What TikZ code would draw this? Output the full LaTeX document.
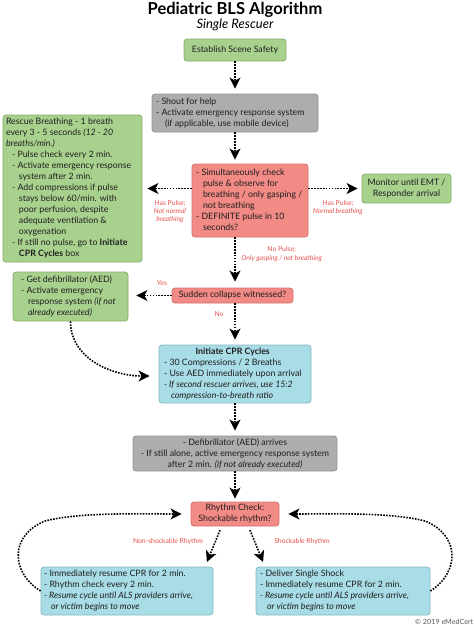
\documentclass[tikz,border=0pt]{standalone}
\usepackage{fontspec}
\setmainfont{Lato}
\usetikzlibrary{arrows.meta,calc}
\definecolor{gfill}{HTML}{A9D18E}
\definecolor{gdraw}{HTML}{86AE6B}
\definecolor{kfill}{HTML}{ADADAD}
\definecolor{kdraw}{HTML}{939393}
\definecolor{rfill}{HTML}{F28A85}
\definecolor{rdraw}{HTML}{D6716C}
\definecolor{cfill}{HTML}{A8DCE6}
\definecolor{cdraw}{HTML}{84B8C4}
\definecolor{txt}{HTML}{1E1E1E}
\definecolor{lblred}{HTML}{E4504C}
\newcommand{\hsp}[1]{\hspace*{#1pt}}
\newcommand{\rows}[2]{\makebox[#1pt][l]{\begin{tabular}{@{}l@{}}#2\end{tabular}}}
\begin{document}
\begin{tikzpicture}[x=1pt,y=-1pt,
  box/.style={draw, rounded corners=3pt, line width=0.8pt, inner xsep=0pt, inner ysep=0pt,
    font=\fontsize{8.8}{11}\selectfont, text=txt},
  greenbox/.style={box, fill=gfill, draw=gdraw},
  graybox/.style={box, fill=kfill, draw=kdraw},
  redbox/.style={box, fill=rfill, draw=rdraw},
  cyanbox/.style={box, fill=cfill, draw=cdraw},
  lbl/.style={text=lblred, font=\fontsize{6.8}{8.3}\selectfont, align=center, inner sep=0pt},
  arr/.style={line width=1.6pt, dash pattern=on 1.6pt off 1.3pt,
    -{Stealth[length=11pt,width=11pt,inset=3pt]}}]
\useasboundingbox (0,0) rectangle (474,625);

% title
\node[font=\fontsize{16.5}{17}\selectfont\bfseries, text=black, inner sep=0pt] (title) at (235,9.5) {Pediatric BLS Algorithm};
\node[font=\fontsize{13}{14}\selectfont\itshape, text=black, inner sep=0pt] (subtitle) at (235,24.5) {Single Rescuer};

% boxes
\node[greenbox, minimum width=102pt, minimum height=22pt, align=center] (safety) at (235,50) {Establish Scene Safety};

\node[graybox, minimum width=166pt, minimum height=38pt] (shout) at (235,113)
 {\rows{158}{- Shout for help\\- Activate emergency response system\\\hsp{9}(if applicable, use mobile device)}};

\node[redbox, minimum width=116pt, minimum height=73pt] (check) at (250,200.5)
 {\rows{108}{- Simultaneously check\\\hsp{7}pulse \& observe for\\\hsp{7}breathing / only gasping /\\\hsp{7}not breathing\\- DEFINITE pulse in 10\\\hsp{7}seconds?}};

\node[greenbox, minimum width=139pt, minimum height=147pt] (rescue) at (72.5,188.5)
 {\rows{133}{Rescue Breathing - 1 breath\\every 3 - 5 seconds \textit{(12 - 20}\\\textit{breaths/min.)}\\
 \hsp{6}- Pulse check every 2 min.\\
 \hsp{6}- Activate emergency response\\\hsp{13}system after 2 min.\\
 \hsp{6}- Add compressions if pulse\\\hsp{13}stays below 60/min. with\\\hsp{13}poor perfusion, despite\\\hsp{13}adequate ventilation \&\\\hsp{13}oxygenation\\
 \hsp{6}- If still no pulse, go to \textbf{Initiate}\\\hsp{13}\textbf{CPR Cycles} box}};

\node[greenbox, minimum width=89pt, minimum height=29pt, align=center] (monitor) at (406.5,188.5)
 {Monitor until EMT /\\Responder arrival};

\node[redbox, minimum width=121pt, minimum height=15pt, align=center] (collapse) at (232.5,295.5)
 {Sudden collapse witnessed?};

\node[greenbox, minimum width=115pt, minimum height=49pt] (aed) at (70.5,296.5)
 {\rows{99}{- Get defibrillator (AED)\\- Activate emergency\\\hsp{7}response system \textit{(if not}\\\hsp{7}\textit{already executed)}}};

\node[cyanbox, minimum width=152pt, minimum height=58pt] (cpr) at (235,374)
 {\rows{142}{\multicolumn{1}{@{}c@{}}{\bfseries Initiate CPR Cycles}\\- 30 Compressions / 2 Breaths\\- Use AED immediately upon arrival\\\textit{- If second rescuer arrives, use 15:2}\\\hsp{7}\textit{compression-to-breath ratio}}};

\node[graybox, minimum width=204pt, minimum height=35pt, align=center] (defib) at (235,453.5)
 {- Defibrillator (AED) arrives\\- If still alone, active emergency response system\\after 2 min. \textit{(if not already executed)}};

\node[redbox, minimum width=88pt, minimum height=24pt, align=center] (rhythm) at (235,514)
 {Rhythm Check:\\Shockable rhythm?};

\node[cyanbox, minimum width=172pt, minimum height=48pt] (nonshock) at (127,591)
 {\rows{166}{- Immediately resume CPR for 2 min.\\- Rhythm check every 2 min.\\\textit{- Resume cycle until ALS providers arrive,}\\\hsp{7}\textit{or victim begins to move}}};

\node[cyanbox, minimum width=174pt, minimum height=48pt] (shock) at (343,591)
 {\rows{166}{- Deliver Single Shock\\- Immediately resume CPR for 2 min.\\\textit{- Resume cycle until ALS providers arrive,}\\\hsp{7}\textit{or victim begins to move}}};

% labels
\node[lbl] (lhp) at (170,211.5) {Has Pulse;\\\textit{Not normal}\\\textit{breathing}};
\node[lbl] (lnb) at (338,207.5) {Has Pulse;\\\textit{Normal breathing}};
\node[lbl] (lnp) at (281.7,254) {No Pulse;\\\textit{Only gasping / not breathing}};
\node[lbl] (lyes) at (162,283) {Yes};
\node[lbl] (lno) at (219,314) {No};
\node[lbl] (lns) at (168,542) {Non-shockable Rhythm};
\node[lbl] (lsh) at (302,542) {Shockable Rhythm};

\node[anchor=east, inner sep=0pt, text=black!65, font=\fontsize{7.2}{8}\selectfont] (copy) at (473.5,621.5) {© 2019 eMedCert};

% connectors
\draw[arr, shorten >=5pt] (safety) -- (shout);
\draw[arr, shorten >=4pt] (shout.south) -- (shout.south |- check.north);
\draw[arr, shorten >=5pt] (check.west |- rescue.east) -- (rescue.east);
\draw[arr, shorten >=4pt] (check.east |- monitor.west) -- (monitor.west);
\draw[arr, shorten >=6pt] (check.south -| cpr.north) -- (collapse.north -| cpr.north);
\draw[arr, shorten >=8pt] (collapse.west) -- (collapse.west -| aed.east);
\draw[arr, shorten >=5pt] (collapse.south -| cpr.north) -- (cpr.north);
\draw[arr, shorten >=9pt] (aed.south) .. controls +(0,37) and +(-47,0) .. ([yshift=-2pt]cpr.west);
\draw[arr, shorten >=5pt] (cpr) -- (defib);
\draw[arr, shorten >=3pt] (defib) -- (rhythm);
\draw[arr, shorten <=4pt, shorten >=5pt] ([xshift=-13.4pt]rhythm.south) -- ([xshift=78pt]nonshock.north);
\draw[arr, shorten <=4pt, shorten >=5pt] ([xshift=13.4pt]rhythm.south) -- ([xshift=-78pt]shock.north);
\draw[arr, shorten >=9pt] (nonshock.west) .. controls (10,572) and (10,535) .. (45,521) .. controls (80,512) and (140,514) .. (rhythm.west);
\draw[arr, shorten >=9pt] (shock.east) .. controls (460,572) and (460,535) .. (425,521) .. controls (390,512) and (330,514) .. (rhythm.east);
\end{tikzpicture}
\end{document}
